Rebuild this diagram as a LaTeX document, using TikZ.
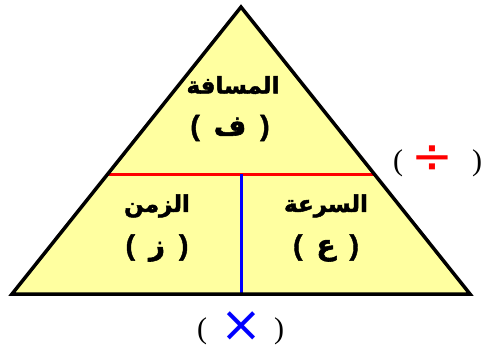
\documentclass[tikz,border=0pt]{standalone}
\usepackage{fontspec}
\setmainfont{Liberation Serif}
\newfontfamily\arabicfont[Script=Arabic,FakeBold=2]{DejaVu Sans}
\newfontfamily\symfont{DejaVu Sans}
\newfontfamily\parenfont[FakeBold=1.5]{Liberation Sans}
\TeXXeTstate=1
\definecolor{triyellow}{RGB}{255,255,160}
\newcommand{\bp}[1]{{\parenfont\bfseries\fontsize{28}{30}\selectfont #1}}
\begin{document}
\begin{tikzpicture}[x=1pt,y=-1pt,
  label/.style={font=\arabicfont\bfseries\fontsize{23}{26}\selectfont, inner sep=0pt},
  letter/.style={font=\arabicfont\bfseries\fontsize{28}{30}\selectfont, inner sep=0pt},
  paren/.style={font=\fontsize{30}{34}\selectfont, inner sep=0pt},
  sym/.style={font=\symfont\fontsize{50}{54}\selectfont, inner sep=0pt}]
\useasboundingbox (0,0) rectangle (482,354);
\coordinate (top) at (241,7);
\coordinate (bl) at (12,294);
\coordinate (br) at (470,294);
\coordinate (rl) at (108,174);
\coordinate (rr) at (374,174);
\coordinate (mc) at (241,174);
\coordinate (mb) at (241,294);
\fill[triyellow] (top) -- (bl) -- (br) -- cycle;
\draw[red, line width=3pt] (rl) -- (rr);
\draw[blue, line width=3pt] (mc) -- (mb);
\draw[black, line width=3.5pt, line join=miter] (top) -- (bl) -- (br) -- cycle;
\node[label] (dist) at (233,85) {\beginR المسافة\endR};
\node[letter] (f) at (230,128) {\bp{(}\hspace{14pt}ف\hspace{14pt}\bp{)}};
\node[label] (time) at (157,206) {\beginR الزمن\endR};
\node[letter] (z) at (157,248) {\bp{(}\hspace{14pt}ز\hspace{14pt}\bp{)}};
\node[label] (speed) at (326,206) {\beginR السرعة\endR};
\node[letter] (e) at (326,248) {\bp{(}\hspace{14pt}ع\hspace{14pt}\bp{)}};
\node[paren] (divl) at (398,163) {(};
\node[sym, text=red] (div) at (432,160) {÷};
\node[paren] (divr) at (477,163) {)};
\node[paren] (mull) at (202,331) {(};
\node[sym, text=blue] (mul) at (241,327) {×};
\node[paren] (mulr) at (279,331) {)};
\end{tikzpicture}
\end{document}
